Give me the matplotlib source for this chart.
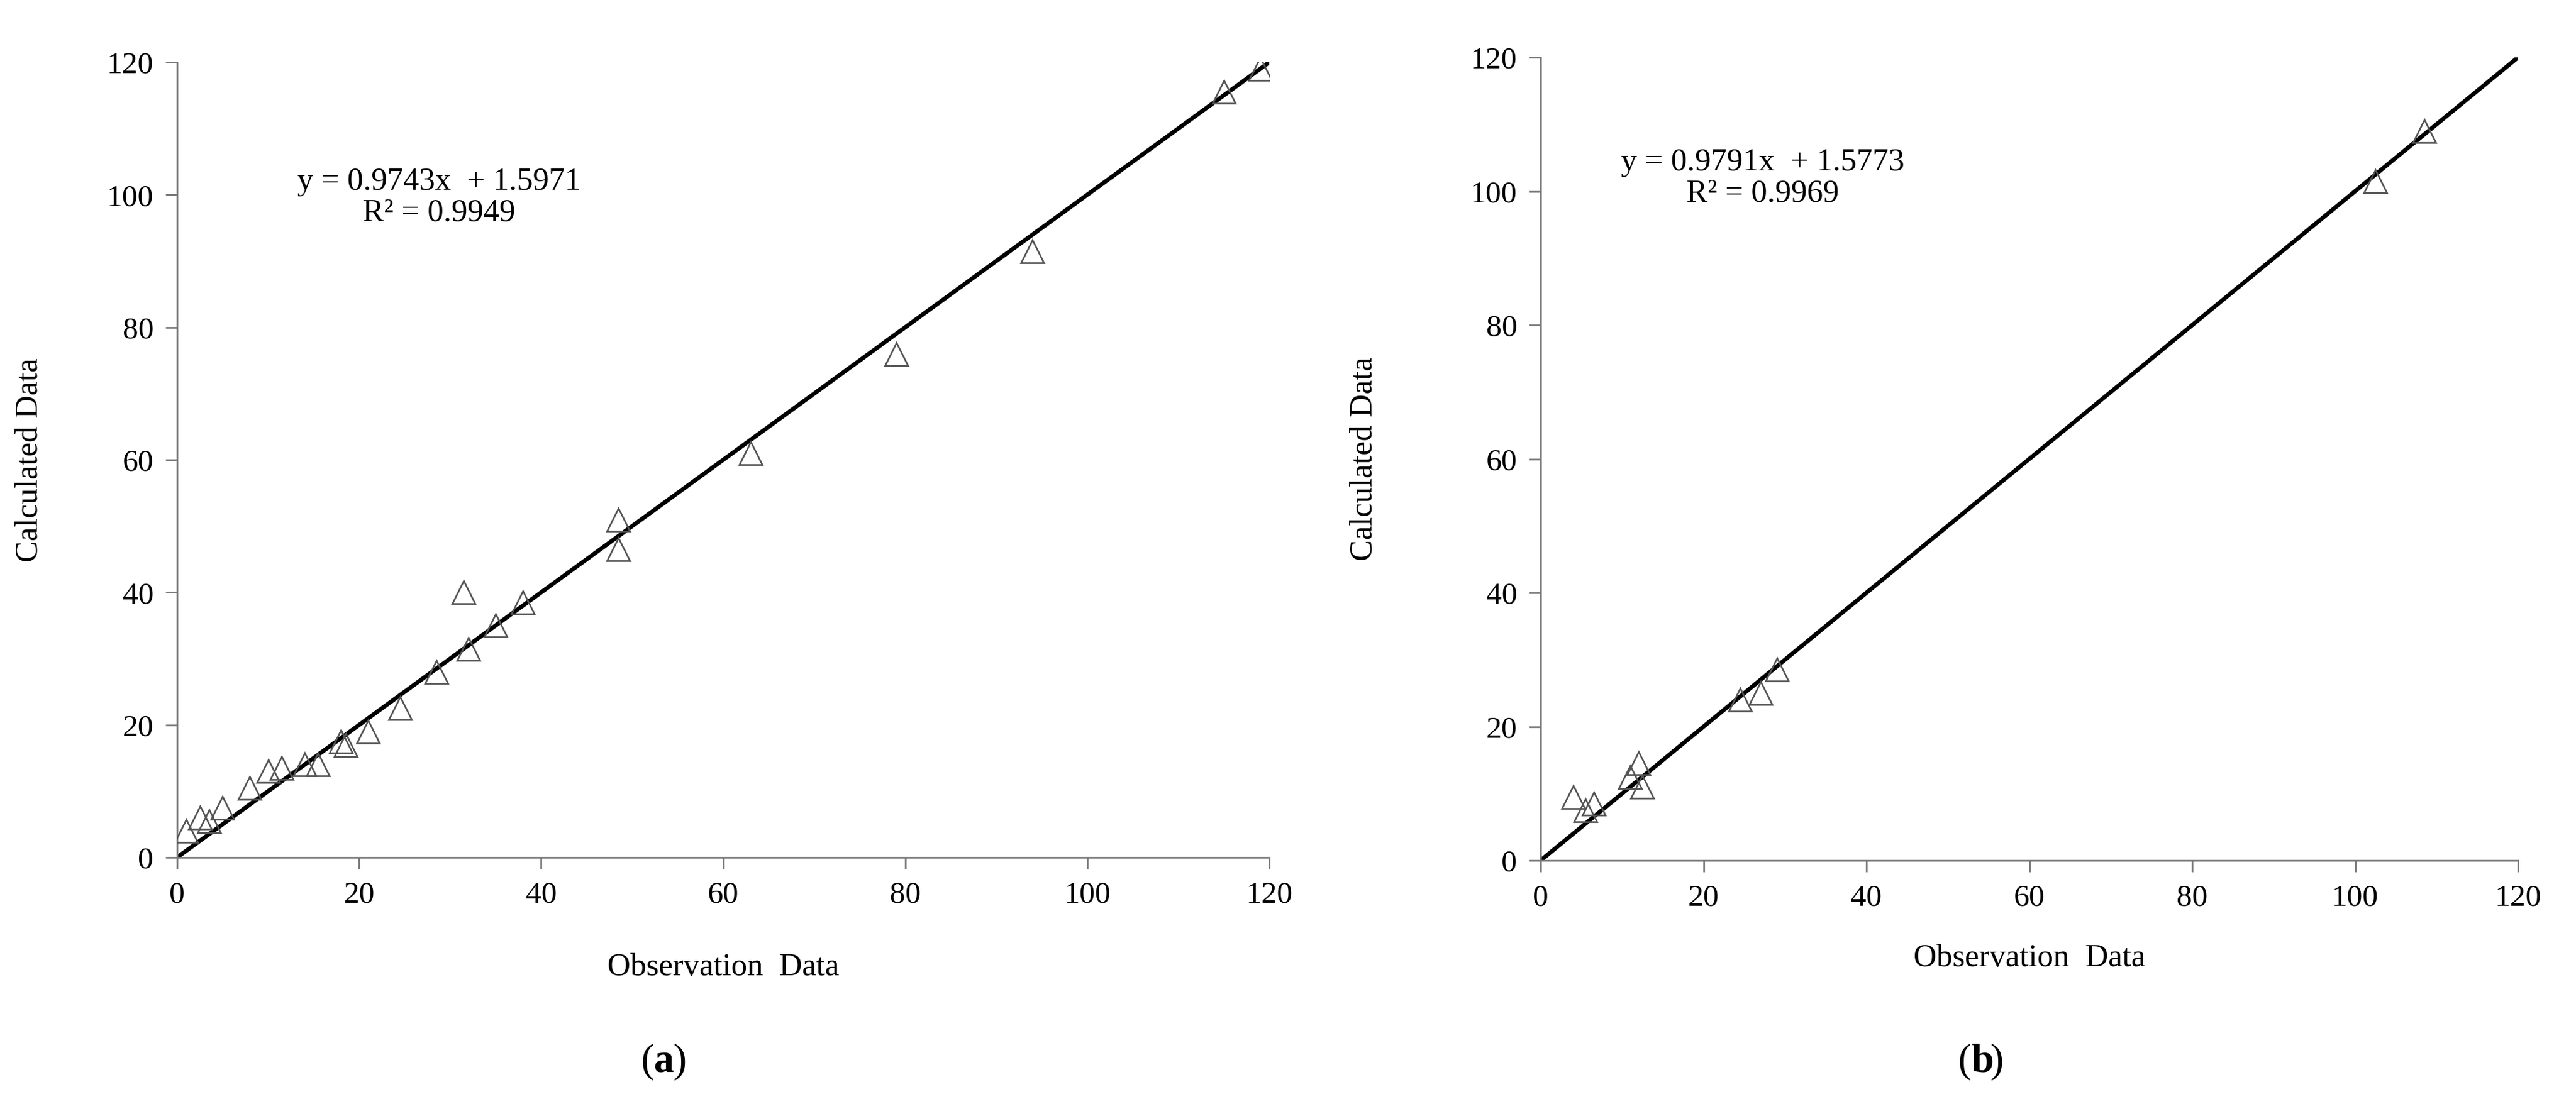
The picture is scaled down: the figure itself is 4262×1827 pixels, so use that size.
import matplotlib.pyplot as plt

plt.rcParams['font.family'] = ['Liberation Serif', 'DejaVu Serif']

# panel (a)
obs_a = [1, 2.5, 3.5, 5, 8, 10, 11.5, 14, 15.5, 18, 18.5, 21, 24.5, 28.5, 31.5,
         32, 35, 38, 48.5, 48.5, 63, 79, 94, 115, 119]
calc_a = [4, 6, 5.5, 7.5, 10.5, 13, 13.5, 14, 14, 17.5, 17, 19, 22.5, 28, 40,
          31.5, 35, 38.5, 46.5, 51, 61, 76, 91.5, 115.5, 119]
# panel (b)
obs_b = [4, 5.5, 6.5, 11, 12, 12.5, 24.5, 27, 29, 102.5, 108.5]
calc_b = [9.5, 7.5, 8.5, 12.5, 14.5, 11, 24, 25, 28.5, 101.5, 109]

eq_a = "y = 0.9743x  + 1.5971\nR² = 0.9949"
eq_b = "y = 0.9791x  + 1.5773\nR² = 0.9969"
ticks = [0, 20, 40, 60, 80, 100, 120]

W, H = 4262, 1827
fig = plt.figure(figsize=(W / 100, H / 100), dpi=100)
ax_a = fig.add_axes([293 / W, 1 - 1419 / H, (2100 - 293) / W, (1419 - 103) / H])
ax_b = fig.add_axes([2549 / W, 1 - 1424 / H, (4166 - 2549) / W, (1424 - 95) / H])

panels = [(ax_a, obs_a, calc_a, eq_a, (0.24, 0.83), 75, 52, 1082, "a"),
          (ax_b, obs_b, calc_b, eq_b, (0.227, 0.85), 110, 38, 3261, "b")]

for ax, x, y, eq, eqpos, ypad, xpad, cx, lab in panels:
    ax.plot([0, 120], [0, 120], color="black", lw=5, zorder=2)
    ax.plot(x, y, linestyle="none", marker="^", markersize=27, markerfacecolor="none",
            markeredgecolor="#555555", markeredgewidth=2, zorder=3)
    ax.set_xlim(0, 120)
    ax.set_ylim(0, 120)
    ax.set_xticks(ticks)
    ax.set_yticks(ticks)
    ax.tick_params(labelsize=37, length=14, width=2, color="#777777", pad=14)
    for side in ["top", "right"]:
        ax.spines[side].set_visible(False)
    for side in ["left", "bottom"]:
        ax.spines[side].set_color("#777777")
        ax.spines[side].set_linewidth(2)
    ax.set_xlabel("Observation  Data", fontsize=38, labelpad=xpad)
    ax.set_ylabel("Calculated Data", fontsize=38, labelpad=ypad)
    ax.text(eqpos[0], eqpos[1], eq, transform=ax.transAxes, fontsize=38,
            ha="center", va="center", linespacing=1.1)
    fig.text(cx / W, 1 - 1757 / H, "(", fontsize=48, ha="right", va="center")
    fig.text(cx / W, 1 - 1757 / H, lab + ")", fontsize=48, ha="left", va="center")
    fig.texts[-1].set_text(lab)
    fig.texts[-1].set_fontweight("bold")
    fig.text(cx / W + 0.0075, 1 - 1757 / H, ")", fontsize=48, ha="left", va="center")

fig.savefig("out.png", dpi=100)
